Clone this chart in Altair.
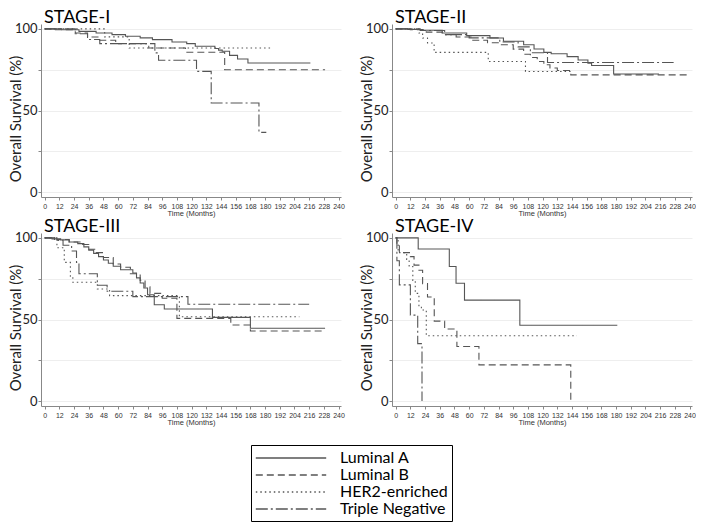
import altair as alt
import pandas as pd

SUBTYPES = ["Luminal A", "Luminal B", "HER2-enriched", "Triple Negative"]
STAGES = ["STAGE-I", "STAGE-II", "STAGE-III", "STAGE-IV"]
X_TICKS = list(range(0, 241, 12))

# ---------- STAGE-I ----------
S1_LUMA_T = [0, 14, 28, 42, 55, 66, 78, 88, 104, 116, 123, 139, 142, 145, 151, 157.5, 166, 217]
S1_LUMA_S = [100, 99.5, 98.5, 97.5, 96.5, 95.5, 94.5, 93.4, 92, 91, 89.4, 88, 87, 86.3, 83.8, 81.6, 79.1, 79.1]
S1_LUMB_T = [0, 8, 25, 35, 45, 58, 85, 115, 147, 229]
S1_LUMB_S = [100, 99.5, 97.5, 95, 93, 91, 88.3, 85.7, 75, 75]
S1_HER2_T = [0, 49, 69, 185]
S1_HER2_S = [100, 95.1, 88.3, 88.3]
S1_TN_T = [0, 25, 35, 45, 90, 93, 124, 136, 175, 181]
S1_TN_S = [100, 97, 93.5, 91, 85.3, 80.8, 74, 54.6, 36.6, 36.6]

# ---------- STAGE-II ----------
S2_LUMA_T = [0, 10, 22, 38, 58, 77, 88, 104.5, 113, 121, 127, 140, 149, 157, 160, 178, 215]
S2_LUMA_S = [100, 99.6, 99.2, 97.5, 95.9, 94.4, 92.4, 90.3, 87.7, 85.6, 84.8, 83, 80.9, 79, 77.6, 72.4, 72.4]
S2_LUMB_T = [0, 12, 25, 38, 49.4, 63, 75, 85, 96, 104.5, 110, 115.6, 121, 126, 132, 143, 238]
S2_LUMB_S = [100, 99.5, 98, 96.5, 95, 93, 91.5, 90.3, 87.6, 84.5, 82.5, 80, 78, 76, 74.5, 71.8, 71.8]
S2_HER2_T = [0, 19, 22, 26, 31.4, 75.6, 106, 143]
S2_HER2_S = [100, 97.5, 94.4, 91.4, 85.6, 80, 73.9, 73.9]
S2_TN_T = [0, 20, 40, 60, 85, 100, 110, 124, 227]
S2_TN_S = [100, 99, 96.5, 94.5, 92, 89, 85.4, 79.4, 79.4]

# ---------- STAGE-III ----------
S3_LUMA_T = [0, 6, 13, 20, 27, 32, 36, 40, 44, 48, 52, 56, 62, 72, 75, 78, 81, 84, 89.5, 97.7, 137, 168, 229]
S3_LUMA_S = [100, 99.4, 98.8, 97.5, 96.5, 94.5, 92.5, 90.5, 88.5, 86.5, 84.5, 82.6, 80.5, 78.5, 75.5, 72.4, 69.3, 65.2, 59, 56.4, 51.3, 44.6, 44.6]
S3_LUMB_T = [0, 10, 20, 30, 36, 42, 48, 56, 62, 70, 78, 82, 86, 96, 108, 152, 168, 228]
S3_LUMB_S = [100, 99, 97.5, 96, 93, 91, 88, 84, 82, 78, 74, 70, 66, 63, 50.7, 46.6, 43, 43]
S3_HER2_T = [0, 10, 16, 21, 23, 43, 53, 110, 208]
S3_HER2_S = [100, 94, 85, 76.5, 72.8, 68.7, 64.6, 51.7, 51.7]
S3_TN_T = [0, 8, 15, 22, 26, 28, 43, 51, 72, 117, 216]
S3_TN_S = [100, 98.5, 95.5, 92, 85, 78, 71, 67.3, 64, 59.3, 59.3]

# ---------- STAGE-IV ----------
S4_LUMA_T = [0, 18.4, 43.8, 49.3, 56.2, 101.4, 181]
S4_LUMA_S = [100, 93.2, 82.5, 72.2, 61.9, 46.5, 46.5]
S4_LUMB_T = [0, 1, 3, 12, 15, 19, 22, 26, 31.5, 40, 50, 68, 143]
S4_LUMB_S = [100, 96, 91, 88.5, 83.3, 80.2, 72, 63.8, 49, 44.2, 33.5, 22.2, 0]
S4_HER2_T = [0, 2, 9, 11, 14, 16, 19, 21, 25, 148]
S4_HER2_S = [100, 91, 86.8, 82.5, 74, 66, 58, 55.8, 40, 40]
S4_TN_T = [0, 1, 3, 12, 18, 21.5]
S4_TN_S = [100, 86, 71.2, 52.7, 35.2, 0]

SERIES = {
    "STAGE-I": [(S1_LUMA_T, S1_LUMA_S), (S1_LUMB_T, S1_LUMB_S), (S1_HER2_T, S1_HER2_S), (S1_TN_T, S1_TN_S)],
    "STAGE-II": [(S2_LUMA_T, S2_LUMA_S), (S2_LUMB_T, S2_LUMB_S), (S2_HER2_T, S2_HER2_S), (S2_TN_T, S2_TN_S)],
    "STAGE-III": [(S3_LUMA_T, S3_LUMA_S), (S3_LUMB_T, S3_LUMB_S), (S3_HER2_T, S3_HER2_S), (S3_TN_T, S3_TN_S)],
    "STAGE-IV": [(S4_LUMA_T, S4_LUMA_S), (S4_LUMB_T, S4_LUMB_S), (S4_HER2_T, S4_HER2_S), (S4_TN_T, S4_TN_S)],
}

rows = []
for stage in STAGES:
    for sub, (ts, ss) in zip(SUBTYPES, SERIES[stage]):
        for i, (t, s) in enumerate(zip(ts, ss)):
            rows.append({"stage": stage, "subtype": sub, "i": i, "t": t, "s": s})
df = pd.DataFrame(rows)

DASHES = [[1, 0], [7, 4], [1.5, 3], [12, 3, 2, 3]]

W, H = 300, 173


def panel(stage):
    return (
        alt.Chart(df)
        .transform_filter(alt.datum.stage == stage)
        .mark_line(interpolate="step-after", color="#555555", strokeWidth=1.1, clip=True)
        .encode(
            x=alt.X(
                "t:Q",
                scale=alt.Scale(domain=[-3, 242], nice=False, zero=False),
                axis=alt.Axis(
                    values=X_TICKS, title="Time (Months)", labelFontSize=7, labelFont="Liberation Sans",
                    labelColor="#333333", labelOverlap=False, labelFlush=False, labelPadding=2,
                    tickSize=3, tickColor="#888888", domainColor="#888888", grid=False,
                    titleFontSize=7.5, titleFont="Liberation Sans", titleFontWeight="normal",
                    titleColor="#333333", titlePadding=0,
                ),
            ),
            y=alt.Y(
                "s:Q",
                scale=alt.Scale(domain=[-3, 103], nice=False, zero=False),
                axis=alt.Axis(
                    values=[0, 25, 50, 75, 100],
                    labelExpr="datum.value % 50 == 0 ? datum.label : ''",
                    title="Overall Survival (%)", titleFont="Lato", titleFontSize=15,
                    titleFontWeight="normal", titleColor="#222222",
                    titleX=-26, titleY=H / 2 + 8, titleBaseline="middle",
                    labelFont="Lato", labelFontSize=13, labelColor="#222222", labelPadding=1,
                    tickSize=3, tickColor="#888888", domainColor="#888888",
                    grid=True, gridColor="#eeeeee",
                ),
            ),
            strokeDash=alt.StrokeDash(
                "subtype:N",
                scale=alt.Scale(domain=SUBTYPES, range=DASHES),
                legend=alt.Legend(
                    title=None, orient="none", legendX=210, legendY=421,
                    symbolType="M-4.4,0H4.4", symbolSize=256, symbolStrokeColor="black",
                    symbolStrokeWidth=1.2, symbolOffset=27, labelOffset=40,
                    labelFont="Lato", labelFontSize=16, labelColor="black",
                    strokeColor="black", fillColor="white", padding=4, rowPadding=0,
                    cornerRadius=0,
                ),
            ),
            order=alt.Order("i:Q"),
        )
        .properties(
            width=W, height=H,
            title=alt.Title(stage, anchor="start", frame="group", fontSize=18, font="Lato",
                            fontWeight="normal", color="black", baseline="alphabetic", offset=-18, dx=3),
        )
    )


chart = (
    alt.concat(
        panel("STAGE-I"), panel("STAGE-II"), panel("STAGE-III"), panel("STAGE-IV"),
        columns=2, spacing=alt.RowColnumber(column=51, row=36), bounds="flush",
    )
    .properties(padding={"left": 0, "top": 0, "right": 0, "bottom": 0}, background="white")
    .configure_view(strokeWidth=0)
)

chart.save("out.html", embed_options={"renderer": "svg", "actions": False})
